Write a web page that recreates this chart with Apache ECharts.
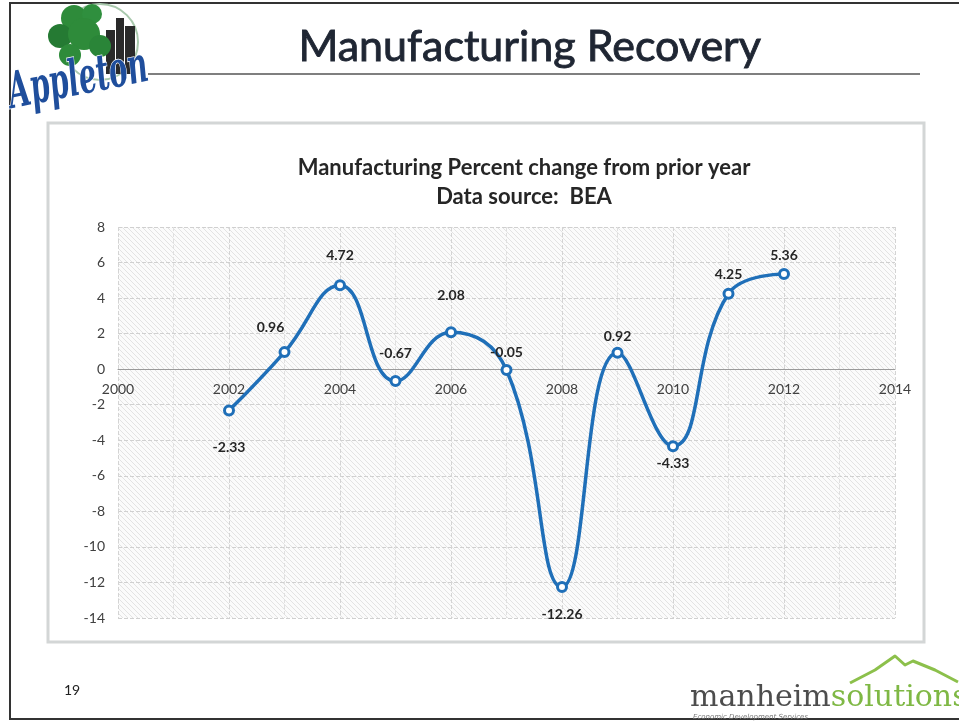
<!DOCTYPE html>
<html>
<head>
<meta charset="utf-8">
<script src="https://cdn.jsdelivr.net/npm/echarts@6/dist/echarts.min.js"></script>
<style>
html,body{margin:0;padding:0;background:#fff;}
#c{width:959px;height:723px;}
</style>
</head>
<body>
<div id="c"></div>
<script>
// ---- data ----
var years = [2002, 2003, 2004, 2005, 2006, 2007, 2008, 2009, 2010, 2011, 2012];
var pctChange = [-2.33, 0.96, 4.72, -0.67, 2.08, -0.05, -12.26, 0.92, -4.33, 4.25, 5.36];
var xTicks = [2000, 2002, 2004, 2006, 2008, 2010, 2012, 2014];
var yTicks = [-14, -12, -10, -8, -6, -4, -2, 0, 2, 4, 6, 8];

// label placement (style only)
var labelOffsets = [[0, 37], [-14, -25], [0, -30], [0, -28], [0, -37], [0, -18], [0, 27], [0, -16], [0, 17], [0, -19], [0, -18]];

// ---- layout ----
var W = 959, H = 723;
var GRID = { left: 118, right: 64, top: 227, bottom: 105 };
var yMin = -14, yMax = 8;
var gridH = H - GRID.top - GRID.bottom;
var xAxisOffset = -gridH * (0 - yMin) / (yMax - yMin); // put x axis on the zero line

// hatch pattern for plot background
var pc = document.createElement('canvas');
pc.width = 5; pc.height = 5;
var pctx = pc.getContext('2d');
pctx.fillStyle = '#fbfbfb'; pctx.fillRect(0, 0, 5, 5);
pctx.strokeStyle = '#e3e3e3'; pctx.lineWidth = 1;
pctx.beginPath();
pctx.moveTo(0, 0); pctx.lineTo(5, 5);
pctx.moveTo(-2.5, 2.5); pctx.lineTo(2.5, 7.5);
pctx.moveTo(2.5, -2.5); pctx.lineTo(7.5, 2.5);
pctx.stroke();

var seriesData = years.map(function (y, i) {
  return {
    value: [y, pctChange[i]],
    label: { offset: labelOffsets[i] }
  };
});

var chart = echarts.init(document.getElementById('c'), null, { renderer: 'canvas' });
chart.setOption({
  backgroundColor: '#ffffff',
  animation: false,
  title: [
    {
      text: 'Manufacturing Percent change from prior year',
      left: 519, top: 152, textAlign: 'center',
      textStyle: { fontFamily: 'Lato', fontWeight: 'bold', fontSize: 22, color: '#262626' }
    },
    {
      text: 'Data source:  BEA',
      left: 519, top: 181, textAlign: 'center',
      textStyle: { fontFamily: 'Lato', fontWeight: 'bold', fontSize: 22, color: '#262626' }
    }
  ],
  graphic: [
    // slide frame
    { type: 'rect', shape: { x: 10, y: 3, width: 960, height: 716 }, style: { fill: 'none', stroke: '#333', lineWidth: 2 }, z: 0 },
    // chart box
    { type: 'rect', shape: { x: 48, y: 123, width: 876, height: 519 }, style: { fill: '#ffffff', stroke: '#d3d6d6', lineWidth: 3 }, z: -1 },
    // main title
    { type: 'text', left: 298, top: 25, style: { text: 'Manufacturing Recovery', font: '43px Lato', fill: '#1f2633', stroke: '#1f2633', lineWidth: 0.9 } },
    { type: 'line', shape: { x1: 148, y1: 74, x2: 920, y2: 74 }, style: { stroke: '#555', lineWidth: 1.3 } },
    // Appleton logo (simplified)
    { type: 'circle', shape: { cx: 100, cy: 42, r: 38 }, style: { fill: 'none', stroke: '#a9c9ad', lineWidth: 2 } },
    { type: 'rect', shape: { x: 106, y: 30, width: 9, height: 44 }, style: { fill: '#2a2a2a' } },
    { type: 'rect', shape: { x: 116, y: 18, width: 8, height: 56 }, style: { fill: '#2a2a2a' } },
    { type: 'rect', shape: { x: 125, y: 26, width: 10, height: 48 }, style: { fill: '#2a2a2a' } },
    { type: 'circle', shape: { cx: 74, cy: 18, r: 13 }, style: { fill: '#2e8b3a' } },
    { type: 'circle', shape: { cx: 92, cy: 14, r: 10 }, style: { fill: '#2f8f3e' } },
    { type: 'circle', shape: { cx: 60, cy: 36, r: 12 }, style: { fill: '#257a33' } },
    { type: 'circle', shape: { cx: 84, cy: 34, r: 16 }, style: { fill: '#2e8b3a' } },
    { type: 'circle', shape: { cx: 100, cy: 46, r: 11 }, style: { fill: '#2a8538' } },
    { type: 'circle', shape: { cx: 70, cy: 55, r: 11 }, style: { fill: '#2e8b3a' } },
    { type: 'text', x: 14, y: 120, rotation: 0.2, scaleX: 0.56, scaleY: 1,
      style: { text: 'Appleton', font: 'italic bold 50px "DejaVu Serif"', fill: '#1f4e9c', stroke: '#ffffff', lineWidth: 1.5, textVerticalAlign: 'bottom' } },
    // page number
    { type: 'text', left: 64, top: 683, style: { text: '19', font: '14px Lato', fill: '#222' } },
    // manheim solutions logo
    { type: 'polyline', shape: { points: [[850, 683], [875, 670], [895, 656], [905, 665], [913, 661], [935, 670], [958, 682]] }, style: { stroke: '#8cc04b', lineWidth: 3, fill: 'none', lineJoin: 'round' } },
    { type: 'text', left: 690, top: 683, style: { rich: {
        a: { font: '30px "DejaVu Serif"', fill: '#4d4d4d' },
        b: { font: '30px "DejaVu Serif"', fill: '#7fb845' } },
        text: '{a|manheim}{b|solutions}' } },
    { type: 'text', left: 693, top: 714, style: { text: 'Economic Development Services', font: 'italic 7px "DejaVu Sans"', fill: '#777' } }
  ],
  grid: {
    left: GRID.left, right: GRID.right, top: GRID.top, bottom: GRID.bottom,
    show: true,
    borderWidth: 0,
    backgroundColor: { image: pc, repeat: 'repeat' }
  },
  xAxis: {
    type: 'value',
    min: 2000, max: 2014, interval: 2,
    offset: xAxisOffset,
    axisLine: { show: true, onZero: false, lineStyle: { color: '#9a9a9a', width: 1 } },
    axisTick: { show: false },
    axisLabel: {
      fontFamily: 'Lato', fontSize: 14, color: '#404040', margin: 13,
      formatter: function (v) { return xTicks.indexOf(v) >= 0 ? String(v) : ''; }
    },
    splitLine: { show: true, lineStyle: { color: '#d4d4d4', type: 'dashed', width: 1 } },
    minorTick: { show: false, splitNumber: 2 },
    minorSplitLine: { show: true, lineStyle: { color: '#e0e0e0', type: 'dashed', width: 1 } }
  },
  yAxis: {
    type: 'value',
    min: yMin, max: yMax, interval: 2,
    axisLine: { show: false },
    axisTick: { show: false },
    axisLabel: {
      fontFamily: 'Lato', fontSize: 14, color: '#404040', margin: 13,
      formatter: function (v) { return yTicks.indexOf(v) >= 0 ? String(v) : ''; }
    },
    splitLine: { show: true, lineStyle: { color: '#d0d0d0', type: 'dashed', width: 1 } }
  },
  series: [{
    type: 'line',
    data: seriesData,
    smooth: 0.45,
    symbol: 'circle',
    symbolSize: 9,
    itemStyle: { color: '#ffffff', borderColor: '#1f6fb8', borderWidth: 3 },
    lineStyle: { color: '#1f6fb8', width: 3.5 },
    label: {
      show: true, position: 'inside',
      fontFamily: 'Lato', fontWeight: 'bold', fontSize: 14, color: '#262626',
      formatter: function (p) { return p.value[1].toFixed(2); }
    },
    z: 5
  }]
});
</script>
</body>
</html>
